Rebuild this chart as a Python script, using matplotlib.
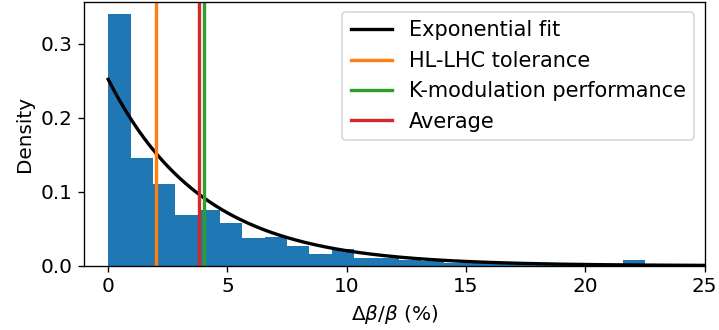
import numpy as np
import matplotlib
matplotlib.use("Agg")
import matplotlib.pyplot as plt

# histogram of beta-beating (density), 24 bins from 0 to 22.5 %
bin_edges = np.linspace(0, 22.5, 25)
densities = [0.340, 0.145, 0.111, 0.068, 0.076, 0.058, 0.037, 0.039,
             0.027, 0.016, 0.023, 0.011, 0.010, 0.008, 0.007, 0.004,
             0.003, 0.003, 0.005, 0.0035, 0.0035, 0.0, 0.0, 0.0075]

fit_rate = 0.252          # exponential fit, lambda
hl_lhc_tolerance = 2.0    # %
kmod_performance = 4.0    # %
average = 3.82            # %

plt.rcParams["font.size"] = 12

fig = plt.figure(figsize=(719 / 120, 330 / 120), dpi=120)
ax = fig.add_axes([0.1173, 0.1948, 0.8627, 0.8])

centers = 0.5 * (bin_edges[:-1] + bin_edges[1:])
ax.hist(centers, bins=bin_edges, weights=densities, color="C0")

x = np.linspace(0, 25, 300)
ax.plot(x, fit_rate * np.exp(-fit_rate * x), color="black", lw=2,
        label="Exponential fit")
ax.axvline(hl_lhc_tolerance, color="C1", lw=2, label="HL-LHC tolerance")
ax.axvline(kmod_performance, color="C2", lw=2, label="K-modulation performance")
ax.axvline(average, color="C3", lw=2, label="Average")

ax.set_xlim(-1, 25)
ax.set_xlabel(r"$\Delta\beta/\beta$ (%)")
ax.set_ylabel("Density")
ax.legend(loc="upper right", fontsize=12.5)

fig.savefig("out.png", dpi=120)
